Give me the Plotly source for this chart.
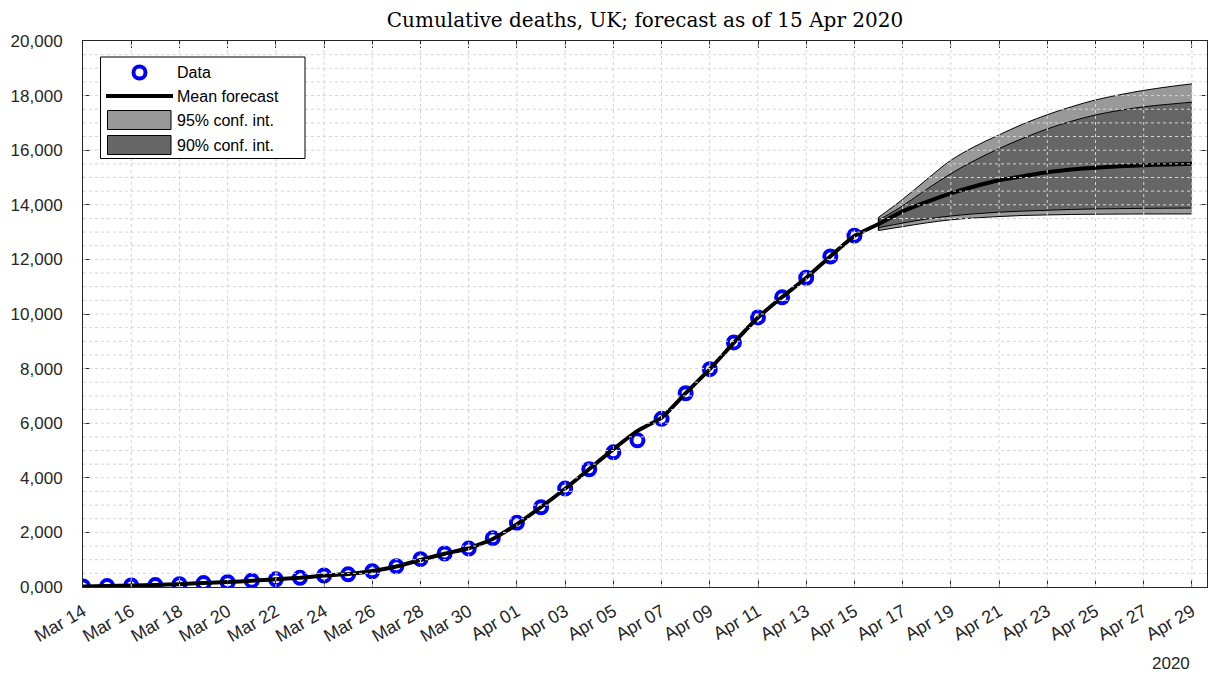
import pandas as pd
import plotly.graph_objects as go

# ---------------- data ----------------
data_dates = pd.date_range("2020-03-14", "2020-04-15", freq="D")
data_values = [21, 35, 55, 71, 104, 144, 177, 233, 281, 335, 422, 465, 578, 759,
               1019, 1228, 1408, 1789, 2352, 2921, 3605, 4313, 4934, 5373, 6159,
               7097, 7978, 8958, 9875, 10612, 11329, 12107, 12868]
fit_values = [20, 35, 55, 72, 104, 144, 180, 232, 282, 338, 420, 472, 585, 752,
              990, 1220, 1420, 1760, 2300, 2930, 3600, 4320, 5050, 5720, 6200,
              7100, 7980, 8950, 9870, 10620, 11330, 12110, 12860]

fc_dates = pd.date_range("2020-04-16", "2020-04-29", freq="D")
mean_fc = [13300, 13760, 14110, 14420, 14680, 14900, 15050, 15190, 15290, 15360,
           15410, 15450, 15480, 15500]
upper95 = [13540, 14200, 14930, 15630, 16140, 16560, 16960, 17300, 17590, 17840,
           18030, 18190, 18320, 18430]
upper90 = [13440, 13960, 14570, 15140, 15630, 16060, 16440, 16780, 17060, 17290,
           17460, 17590, 17680, 17760]
lower90 = [13160, 13330, 13480, 13590, 13670, 13730, 13770, 13800, 13830, 13850,
           13860, 13870, 13875, 13880]
lower95 = [13060, 13200, 13340, 13450, 13520, 13570, 13610, 13630, 13645, 13655,
           13660, 13665, 13665, 13665]

y_tickvals = list(range(0, 20001, 2000))
y_ticktext = ["0,000", "2,000", "4,000", "6,000", "8,000", "10,000", "12,000",
              "14,000", "16,000", "18,000", "20,000"]
title_text = "Cumulative deaths, UK; forecast as of 15 Apr 2020"
legend_labels = ["Data", "Mean forecast", "95% conf. int.", "90% conf. int."]

# ---------------- layout geometry ----------------
W, H = 1209, 674
ML, MR, MT, MB = 83, 2, 41, 87
PW, PH = W - ML - MR, H - MT - MB


def px(x):  # page pixel -> paper x
    return (x - ML) / PW


def py(y):  # page pixel -> paper y
    return (H - MB - y) / PH


C95, C90 = "#999999", "#666666"
fc_x = list(fc_dates)
fig = go.Figure()

# confidence bands (filled between lower and upper curves)
fig.add_trace(go.Scatter(x=fc_x, y=lower95, mode="lines", line=dict(color="black", width=1, shape="spline"),
                         showlegend=False, hoverinfo="skip"))
fig.add_trace(go.Scatter(x=fc_x, y=upper95, mode="lines", fill="tonexty", fillcolor=C95,
                         line=dict(color="black", width=1, shape="spline"),
                         name=legend_labels[2], showlegend=False))
fig.add_trace(go.Scatter(x=fc_x, y=lower90, mode="lines", line=dict(color="black", width=1, shape="spline"),
                         showlegend=False, hoverinfo="skip"))
fig.add_trace(go.Scatter(x=fc_x, y=upper90, mode="lines", fill="tonexty", fillcolor=C90,
                         line=dict(color="black", width=1, shape="spline"),
                         name=legend_labels[3], showlegend=False))
# left edge of the bands
fig.add_trace(go.Scatter(x=[fc_x[0], fc_x[0]], y=[lower95[0], upper95[0]], mode="lines",
                         line=dict(color="black", width=1.5), showlegend=False, hoverinfo="skip"))
fig.add_trace(go.Scatter(
    x=list(data_dates), y=data_values, mode="markers", name=legend_labels[0],
    marker=dict(symbol="circle-open", size=12, color="#0000ff",
                line=dict(width=4, color="#0000ff")), showlegend=False))
fig.add_trace(go.Scatter(
    x=list(data_dates) + fc_x, y=fit_values + mean_fc, mode="lines",
    name=legend_labels[1], line=dict(color="black", width=4, shape="spline", smoothing=0.5),
    showlegend=False))

shapes = []
# dotted grid drawn on top of the bands
for v in range(500, 20000, 500):
    shapes.append(dict(type="line", xref="paper", yref="y", x0=0, x1=1, y0=v, y1=v,
                       line=dict(color="#d4d4d4", width=1, dash="dot"), layer="above"))
for d in pd.date_range("2020-03-16", "2020-04-29", freq="2D"):
    shapes.append(dict(type="line", xref="x", yref="paper", x0=d, x1=d, y0=0, y1=1,
                       line=dict(color="#d4d4d4", width=1, dash="dot"), layer="above"))

# legend box (drawn by hand to match the swatch sizes)
shapes.append(dict(type="rect", xref="paper", yref="paper", x0=px(100.5), x1=px(305),
                   y0=py(158.5), y1=py(57), fillcolor="white",
                   line=dict(color="black", width=1), layer="above"))
shapes.append(dict(type="circle", xref="paper", yref="paper", x0=px(133.5), x1=px(145.5),
                   y0=py(78.5), y1=py(66.5), line=dict(color="#0000ff", width=4), layer="above"))
shapes.append(dict(type="line", xref="paper", yref="paper", x0=px(106), x1=px(173),
                   y0=py(96), y1=py(96), line=dict(color="black", width=4), layer="above"))
shapes.append(dict(type="rect", xref="paper", yref="paper", x0=px(107.5), x1=px(171),
                   y0=py(129.5), y1=py(110.5), fillcolor=C95,
                   line=dict(color="black", width=1), layer="above"))
shapes.append(dict(type="rect", xref="paper", yref="paper", x0=px(107.5), x1=px(171),
                   y0=py(154.5), y1=py(135.5), fillcolor=C90,
                   line=dict(color="black", width=1), layer="above"))

legend_font = dict(family="Liberation Sans, Arial, sans-serif", size=16, color="black")
annotations = []
for label, yc in zip(legend_labels, [72.5, 97, 120.5, 145]):
    annotations.append(dict(text=label, xref="paper", yref="paper", x=px(175), y=py(yc),
                            xanchor="left", yanchor="middle", showarrow=False,
                            font=legend_font))

axis_font = dict(family="Liberation Sans, Arial, sans-serif", size=17, color="#262626")
xaxis_font = dict(family="Liberation Sans, Arial, sans-serif", size=18, color="#262626")
annotations.append(dict(text="2020", xref="paper", yref="paper", x=px(1171), y=py(663),
                        xanchor="center", yanchor="middle", showarrow=False,
                        font=axis_font))

fig.update_layout(
    width=W, height=H,
    margin=dict(l=ML, r=MR, t=MT, b=MB),
    paper_bgcolor="white", plot_bgcolor="white",
    shapes=shapes, annotations=annotations,
    title=dict(text=title_text, x=0.5, xref="paper", xanchor="center",
               y=1 - 20 / H, yref="container", yanchor="middle",
               font=dict(family="DejaVu Serif, serif", size=20, color="black")),
    showlegend=False,
    xaxis=dict(type="date", range=["2020-03-14", "2020-04-29 15:00"], automargin=False,
               tick0="2020-03-14", dtick=2 * 86400000, tickformat="%b %d",
               tickangle=-30, tickfont=xaxis_font, showgrid=False, zeroline=False,
               showline=True, linecolor="#262626", linewidth=1, mirror="ticks",
               ticks="inside", ticklen=7, tickcolor="#262626", ticklabelstandoff=6),
    yaxis=dict(range=[0, 20000], tickvals=y_tickvals, ticktext=y_ticktext, automargin=False,
               tickfont=axis_font, showgrid=False, zeroline=False,
               showline=True, linecolor="#262626", linewidth=1, mirror="ticks",
               ticks="inside", ticklen=7, tickcolor="#262626", ticklabelstandoff=16),
)

fig.write_html("out.html", config={"displayModeBar": False},
               post_script="document.body.style.margin='0px';document.body.style.overflow='hidden';")
